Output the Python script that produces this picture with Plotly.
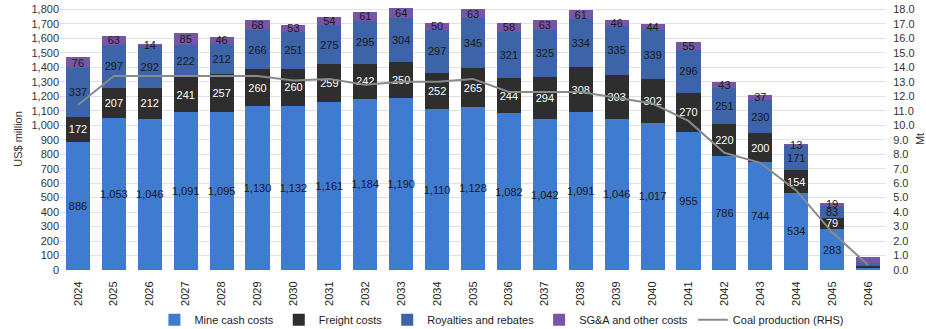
import plotly.graph_objects as go

years = [str(y) for y in range(2024, 2047)]

mine_cash = [886, 1053, 1046, 1091, 1095, 1130, 1132, 1161, 1184, 1190, 1110, 1128,
             1082, 1042, 1091, 1046, 1017, 955, 786, 744, 534, 283, 20]
freight = [172, 207, 212, 241, 257, 260, 260, 259, 242, 250, 252, 265,
           244, 294, 308, 303, 302, 270, 220, 200, 154, 79, 8]
royalties = [337, 297, 292, 222, 212, 266, 251, 275, 295, 304, 297, 345,
             321, 325, 334, 335, 339, 296, 251, 230, 171, 83, 22]
sga_other = [76, 63, 14, 85, 46, 68, 53, 54, 61, 64, 50, 63,
             58, 63, 61, 46, 44, 55, 43, 37, 13, 19, 40]
coal_mt = [11.4, 13.4, 13.4, 13.4, 13.4, 13.4, 13.1, 13.2, 12.8, 13.0, 13.0, 13.2,
           12.3, 12.3, 12.3, 11.9, 11.5, 10.3, 8.1, 7.4, 5.5, 2.6, 0.35]

# The final year carries no value labels
labelled = len(years) - 1


def labels(vals):
    return [f"{v:,}" if i < labelled else "" for i, v in enumerate(vals)]


FONT = "Liberation Sans, Arial, sans-serif"

fig = go.Figure()

series = [
    ("Mine cash costs", mine_cash, "#3f7bcf", "#1a1a1a"),
    ("Freight costs", freight, "#2e2e2e", "#ffffff"),
    ("Royalties and rebates", royalties, "#3d63a9", "#1a1a1a"),
    ("SG&A and other costs", sga_other, "#7657a6", "#1a1a1a"),
]
for name, vals, color, tcol in series:
    fig.add_trace(go.Bar(
        x=years, y=vals, name=name,
        marker=dict(color=color, line=dict(width=0)),
        text=labels(vals), textposition="inside", insidetextanchor="middle",
        textangle=0, textfont=dict(color=tcol, size=11, family=FONT),
        cliponaxis=False,
    ))

fig.add_trace(go.Scatter(
    x=years, y=coal_mt, name="Coal production (RHS)", yaxis="y2",
    mode="lines", line=dict(color="#8a8a8a", width=2),
))

fig.update_layout(
    width=926, height=329,
    margin=dict(l=60, r=40, t=8, b=59, autoexpand=False),
    barmode="stack", bargap=0.33,
    plot_bgcolor="white", paper_bgcolor="white",
    font=dict(family=FONT, size=11, color="#333333"),
    uniformtext=dict(minsize=11, mode="show"),
    xaxis=dict(type="category", tickangle=-90, showgrid=False, automargin=False,
               tickfont=dict(size=11, color="#222222"),
               ticks="outside", ticklen=6, tickcolor="rgba(0,0,0,0)", showline=False),
    yaxis=dict(range=[0, 1810], tickvals=list(range(0, 1801, 100)), tickformat=",",
               showgrid=True, gridcolor="#e0e0e0", gridwidth=1, zeroline=False,
               automargin=False,
               title=dict(text="US$ million", font=dict(size=11), standoff=6),
               tickfont=dict(size=11)),
    yaxis2=dict(range=[0, 18.1], tickvals=[i for i in range(0, 19)], tickformat=".1f",
                overlaying="y", side="right", showgrid=False, zeroline=False,
                automargin=False, ticks="outside", ticklen=4,
                tickcolor="rgba(0,0,0,0)",
                title=dict(text="Mt", font=dict(size=11), standoff=4),
                tickfont=dict(size=11)),
    legend=dict(orientation="h", x=0.535, xanchor="center", y=-0.19, yanchor="middle",
                bgcolor="rgba(0,0,0,0)",
                font=dict(size=11, color="#222222"), traceorder="normal",
                itemwidth=30),
    showlegend=True,
)

fig.write_html("out.html")
